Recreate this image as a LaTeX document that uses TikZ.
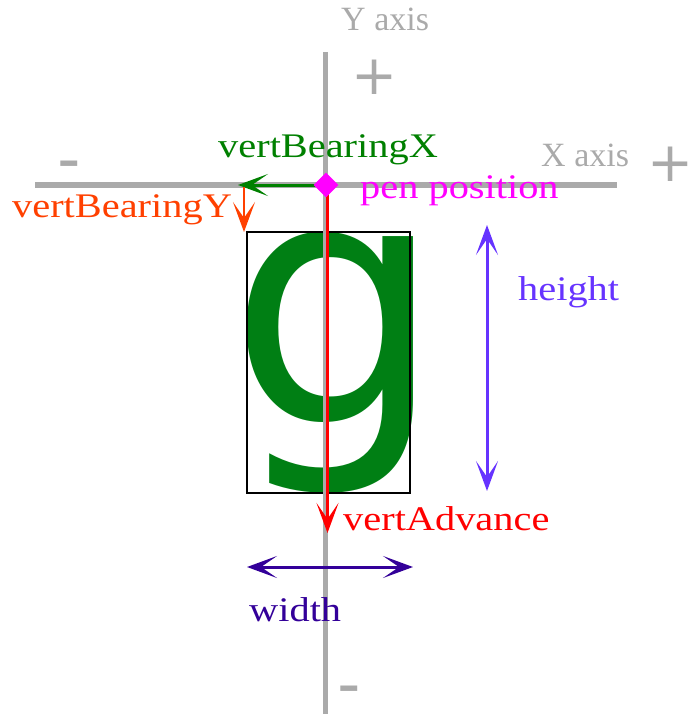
\documentclass[tikz,border=0pt]{standalone}
\usepackage{fontspec}
\setmainfont{Liberation Serif}
\newfontfamily\lblfont[FakeStretch=1.17]{Liberation Serif}
\newfontfamily\glyphfont{DejaVu Sans}
\usetikzlibrary{arrows.meta,shapes.geometric}

\definecolor{axisgray}{HTML}{AAAAAA}
\definecolor{bearxcol}{HTML}{008000}
\definecolor{bearycol}{HTML}{FF4000}
\definecolor{advcol}{HTML}{FF0000}
\definecolor{pencol}{HTML}{FF00FF}
\definecolor{widthcol}{HTML}{330099}
\definecolor{heightcol}{HTML}{6633FF}
\definecolor{glyphcol}{HTML}{007F14}

\begin{document}
\begin{tikzpicture}[
  x=1pt, y=-1pt,
  >={Stealth[length=30pt, width=22pt, inset=16pt]},
  axis/.style={draw=axisgray, line width=5pt},
  lbl/.style={font=\lblfont\fontsize{34.5pt}{36pt}\selectfont, inner sep=0pt, anchor=base west},
  axlbl/.style={font=\fontsize{34pt}{36pt}\selectfont, text=axisgray, inner sep=0pt, anchor=base west},
  plussign/.style={font=\glyphfont\fontsize{55pt}{55pt}\selectfont, text=axisgray, inner sep=0pt},
  minussign/.style={font=\glyphfont\bfseries\fontsize{43pt}{43pt}\selectfont, text=axisgray, inner sep=0pt, anchor=north},
  arr/.style={->, line width=3pt},
  dblarr/.style={<->, line width=3pt},
]
  \useasboundingbox (0,0) rectangle (699,714);

  % glyph and its bounding box
  \node[inner sep=0pt, anchor=base west, text=glyphcol,
        font=\glyphfont\fontsize{340pt}{340pt}\selectfont] (glyph) at (228.5,422) {g};
  \node[draw, line width=2.5pt, minimum width=163pt, minimum height=261pt,
        inner sep=0pt] (bbox) at (328.5,362.5) {};

  % axes
  \coordinate (xl) at (35,185);
  \coordinate (xr) at (617,185);
  \coordinate (yt) at (325.5,52);
  \coordinate (yb) at (325.5,714);
  \draw[axis] (xl) -- (xr);
  \draw[axis] (yt) -- (yb);

  \node[axlbl] (ylbl) at (341,31) {Y axis};
  \node[axlbl] (xlbl) at (541,167) {X axis};
  \node[plussign] (yplus) at (375,77) {+};
  \node[plussign] (xplus) at (671,164.5) {+};
  \node[minussign] (xminus) at (69,160.5) {–};
  \node[minussign] (yminus) at (349,686) {–};

  % metrics
  \coordinate (advend) at (327.5,533);
  \draw[arr, draw=advcol] (327.5,190) -- (advend);
  \coordinate (bxend) at (238,185);
  \draw[arr, draw=bearxcol] (318,185) -- (bxend);
  \coordinate (bytop) at (244,187);
  \coordinate (byend) at (244,232);
  \draw[arr, draw=bearycol, line width=2.5pt] (bytop) -- (byend);

  \node[diamond, fill=pencol, minimum size=25pt, inner sep=0pt] (pen) at (326,185) {};

  \coordinate (wl) at (247,567);
  \coordinate (wr) at (413,567);
  \draw[dblarr, draw=widthcol] (wl) -- (wr);
  \coordinate (ht) at (487,225);
  \coordinate (hb) at (487,491);
  \draw[dblarr, draw=heightcol] (ht) -- (hb);

  % labels
  \node[lbl, text=bearxcol] (bxlbl) at (218,158) {vertBearingX};
  \node[lbl, text=bearycol] (bylbl) at (12,217) {vertBearingY};
  \node[lbl, text=pencol] (penlbl) at (360,198) {pen position};
  \node[lbl, text=advcol] (advlbl) at (343,530) {vertAdvance};
  \node[lbl, text=widthcol] (wlbl) at (249,621) {width};
  \node[lbl, text=heightcol] (hlbl) at (518,300) {height};
\end{tikzpicture}
\end{document}
